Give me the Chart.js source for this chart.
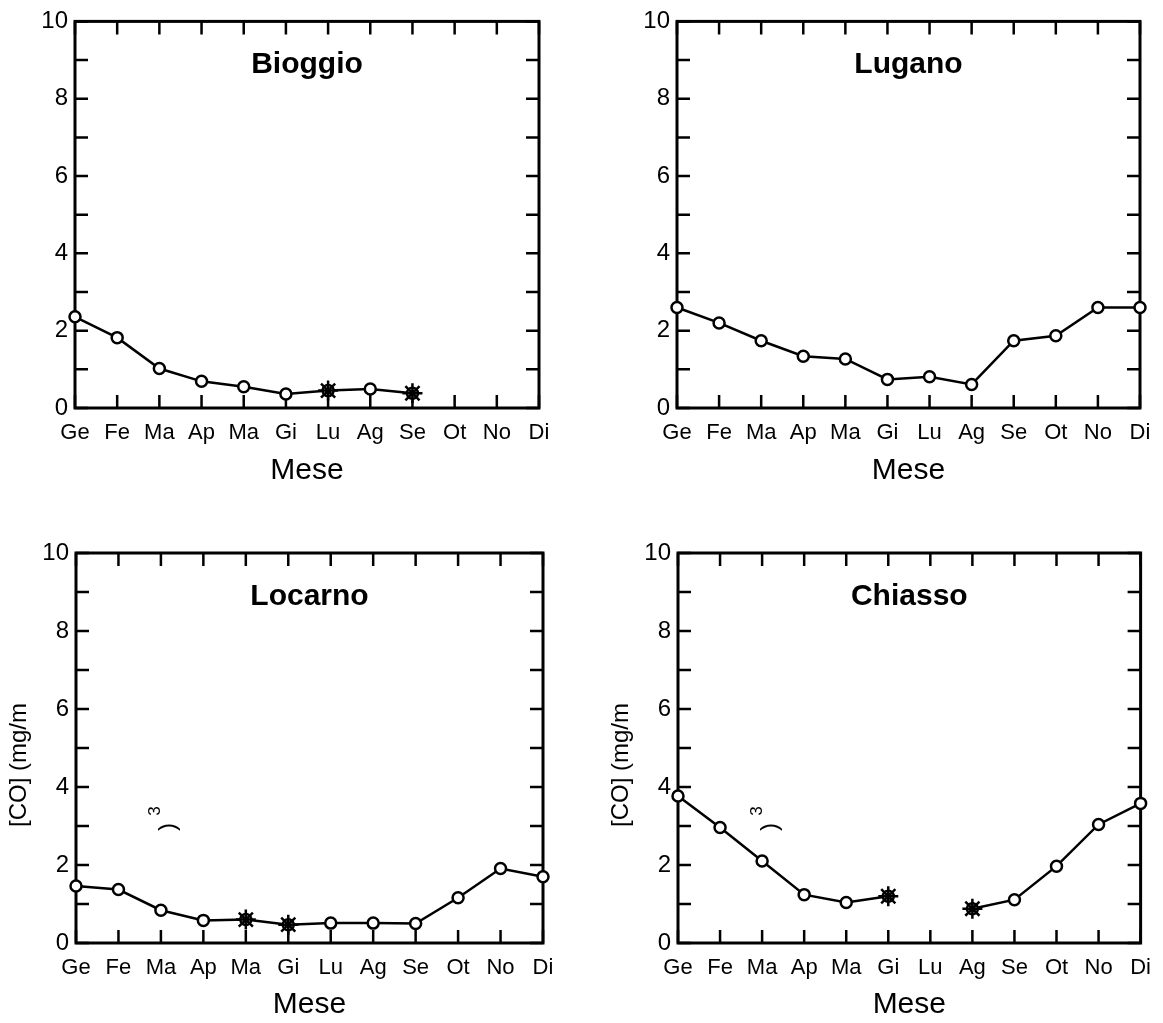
<!DOCTYPE html>
<html>
<head>
<meta charset="utf-8">
<title>CO - medie mensili</title>
<script src="https://cdn.jsdelivr.net/npm/chart.js@4.4.1/dist/chart.umd.min.js"></script>
<style>
  body { margin: 0; background: #fff; }
  #wrap { position: relative; width: 1163px; height: 1023px; background: #fff; }
  #wrap canvas { position: absolute; }
</style>
</head>
<body>
<div id="wrap">
  <canvas id="c-bioggio" width="580" height="500" style="left:0;top:0"></canvas>
  <canvas id="c-lugano" width="583" height="500" style="left:580px;top:0"></canvas>
  <canvas id="c-locarno" width="580" height="503" style="left:0;top:520px"></canvas>
  <canvas id="c-chiasso" width="583" height="503" style="left:580px;top:520px"></canvas>
</div>
<script>
const months = ["Ge", "Fe", "Ma", "Ap", "Ma", "Gi", "Lu", "Ag", "Se", "Ot", "No", "Di"];
const yTicks = [0, 2, 4, 6, 8, 10];

// monthly mean CO, mg/m3 (null = no data)
const bioggioCO = [2.36, 1.82, 1.02, 0.69, 0.55, 0.36, 0.45, 0.49, 0.38, null, null, null];
const luganoCO  = [2.60, 2.20, 1.74, 1.34, 1.27, 0.74, 0.81, 0.61, 1.74, 1.87, 2.60, 2.60];
const locarnoCO = [1.46, 1.37, 0.84, 0.58, 0.60, 0.47, 0.51, 0.51, 0.50, 1.16, 1.91, 1.70];
const chiassoCO = [3.77, 2.96, 2.10, 1.24, 1.04, 1.20, null, 0.88, 1.11, 1.97, 3.04, 3.58];

// months with incomplete data (drawn with a star)
const bioggioStars = [6, 8];
const luganoStars  = [];
const locarnoStars = [4, 5];
const chiassoStars = [5, 7];

const FONT = "'Liberation Sans', Arial, Helvetica, sans-serif";

function rotatedText(ctx, text, x, y, font) {
  ctx.save();
  ctx.translate(x, y);
  ctx.rotate(-Math.PI / 2);
  ctx.font = font;
  ctx.textAlign = "center";
  ctx.textBaseline = "middle";
  ctx.fillText(text, 0, 0);
  ctx.restore();
}

// box, inward ticks, station name, y title
const framePlugin = {
  id: "frame",
  beforeDatasetsDraw(chart, args, opts) {
    const { ctx, chartArea: a, scales: { x, y } } = chart;
    ctx.save();
    ctx.strokeStyle = "#000";
    ctx.lineWidth = 2.5;
    ctx.beginPath();
    y.ticks.forEach(t => {
      const py = y.getPixelForValue(t.value);
      ctx.moveTo(a.left, py); ctx.lineTo(a.left + 13, py);
      ctx.moveTo(a.right, py); ctx.lineTo(a.right - 13, py);
    });
    months.forEach((m, i) => {
      const px = x.getPixelForValue(i);
      ctx.moveTo(px, a.bottom); ctx.lineTo(px, a.bottom - 13);
      ctx.moveTo(px, a.top); ctx.lineTo(px, a.top + 13);
    });
    ctx.stroke();
    ctx.lineWidth = 3;
    ctx.strokeRect(a.left, a.top, a.right - a.left, a.bottom - a.top);

    ctx.fillStyle = "#000";
    ctx.font = "bold 30px " + FONT;
    ctx.textAlign = "center";
    ctx.textBaseline = "alphabetic";
    ctx.fillText(opts.name, (a.left + a.right) / 2, a.top + 52);

    if (opts.yTitle) {
      rotatedText(ctx, "[CO] (mg/m", a.left - 57, a.top + 212, "24px " + FONT);
      // the exponent and closing bracket end up inside the plot
      rotatedText(ctx, "3", a.left + 79, a.top + 258, "17px " + FONT);
      rotatedText(ctx, ")", a.left + 92, a.top + 274, "24px " + FONT);
    }
    ctx.restore();
  }
};

function makePanel(id, name, values, stars, box) {
  const starData = values.map((v, i) => stars.includes(i) ? v : null);
  const canvas = document.getElementById(id);
  return new Chart(canvas, {
    type: "line",
    data: {
      labels: months,
      datasets: [{
        data: starData,
        showLine: false,
        pointStyle: "star",
        pointRadius: 10,
        pointBorderWidth: 2.5,
        pointBorderColor: "#000",
        pointBackgroundColor: "#000",
        clip: false
      }, {
        data: values,
        borderColor: "#000",
        borderWidth: 2.5,
        tension: 0,
        spanGaps: false,
        pointStyle: "circle",
        pointRadius: 5.5,
        pointBorderWidth: 2.5,
        pointBorderColor: "#000",
        pointBackgroundColor: "#fff",
        clip: false
      }]
    },
    options: {
      responsive: false,
      animation: false,
      events: [],
      layout: { padding: { left: 0, top: box.top, right: canvas.width - box.right, bottom: 0 } },
      plugins: {
        legend: { display: false },
        tooltip: { enabled: false },
        frame: { name: name, yTitle: box.yTitle }
      },
      scales: {
        x: {
          type: "category",
          offset: false,
          grid: { display: false, drawTicks: false },
          border: { display: false },
          ticks: {
            autoSkip: false, maxRotation: 0, padding: 12,
            color: "#000", font: { family: FONT, size: 22 }
          },
          title: {
            display: true, text: "Mese", color: "#000",
            font: { family: FONT, size: 30 },
            padding: { top: 0, bottom: box.meseGap }
          },
          afterFit(s) { s.height = canvas.height - box.bottom; }
        },
        y: {
          min: 0, max: 10,
          grid: { display: false, drawTicks: false },
          border: { display: false },
          ticks: {
            stepSize: 1, padding: 7, autoSkip: false,
            color: "#000", font: { family: FONT, size: 24 },
            callback: v => yTicks.includes(v) ? String(v) : ""
          },
          afterFit(s) { s.width = box.left; }
        }
      }
    },
    plugins: [framePlugin]
  });
}

makePanel("c-bioggio", "Bioggio", bioggioCO, bioggioStars,
  { left: 75, top: 19, right: 539, bottom: 408, meseGap: 11 });
makePanel("c-lugano", "Lugano", luganoCO, luganoStars,
  { left: 97, top: 16, right: 560, bottom: 408, meseGap: 11 });
makePanel("c-locarno", "Locarno", locarnoCO, locarnoStars,
  { left: 76, top: 33, right: 543, bottom: 423, meseGap: 0, yTitle: true });
makePanel("c-chiasso", "Chiasso", chiassoCO, chiassoStars,
  { left: 98, top: 33, right: 562, bottom: 423, meseGap: 0, yTitle: true });
</script>
</body>
</html>
